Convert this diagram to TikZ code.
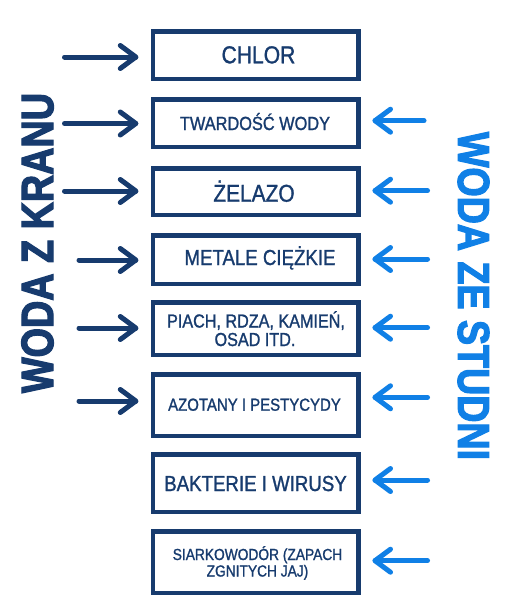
\documentclass[tikz,border=0pt]{standalone}
\usepackage{fontspec}
\usepackage{graphicx}
\usetikzlibrary{calc}
\newfontfamily\boxfont{Liberation Sans}[FakeStretch=0.86,FakeBold=1.2]
\newfontfamily\headfont{Liberation Sans Bold}[FakeBold=3]
\definecolor{navy}{RGB}{23,59,110}
\definecolor{sky}{RGB}{16,128,230}
\tikzset{
  box/.style={draw=navy, line width=4.5pt, minimum width=205.5pt, inner sep=0pt, fill=white},
  lbl/.style={text=navy, inner sep=0pt, anchor=base},
  darr/.style={draw=navy, line width=5pt, line cap=round, line join=round},
  larr/.style={draw=sky, line width=5pt, line cap=round, line join=round},
}
\begin{document}
\begin{tikzpicture}[x=1pt,y=-1pt]
\useasboundingbox[fill=white] (0,0) rectangle (512,613);
% boxes (outer top, outer bottom)
\foreach \n/\t/\b in {1/29/81,2/97/149,3/166/217,4/233/286,5/300/357,6/372/438,7/452/514,8/529/595}{
  \pgfmathsetmacro{\h}{\b-\t-4.5}
  \node[box, minimum height=\h pt] (b\n) at (255.5,{(\t+\b)/2}) {};
}
% texts
\node[lbl, font=\boxfont\fontsize{24.5}{24}\selectfont] (t1) at (258.5,63.3) {CHLOR};
\node[lbl, font=\boxfont\fontsize{19}{19}\selectfont] (t2) at (255,130) {TWARDOŚĆ WODY};
\node[lbl, font=\boxfont\fontsize{24.3}{24}\selectfont] (t3) at (254,201.7) {ŻELAZO};
\node[lbl, font=\boxfont\fontsize{21.7}{22}\selectfont] (t4) at (260,265) {METALE CIĘŻKIE};
\node[lbl, font=\boxfont\fontsize{18.8}{15}\selectfont] (t5a) at (256,327.5) {PIACH, RDZA, KAMIEŃ,};
\node[lbl, font=\boxfont\fontsize{18.8}{15}\selectfont] (t5b) at (255,346) {OSAD ITD.};
\node[lbl, font=\boxfont\fontsize{17.4}{17}\selectfont] (t6) at (254.5,410.7) {AZOTANY I PESTYCYDY};
\node[lbl, font=\boxfont\fontsize{21.7}{22}\selectfont] (t7) at (255.5,491) {BAKTERIE I WIRUSY};
\node[lbl, font=\boxfont\fontsize{16}{13}\selectfont] (t8a) at (257.5,560) {SIARKOWODÓR (ZAPACH};
\node[lbl, font=\boxfont\fontsize{16}{13}\selectfont] (t8b) at (257.5,576.5) {ZGNITYCH JAJ)};
% side titles
\node[rotate=90, inner sep=0pt, text=navy] (lefttitle) at (37.5,243) {\resizebox{300pt}{31.5pt}{\headfont WODA Z KRANU}};
\node[rotate=-90, inner sep=0pt, text=sky] (righttitle) at (473.5,296) {\resizebox{328pt}{31pt}{\headfont WODA ZE STUDNI}};
% left arrows
\foreach \i/\y/\xs in {1/57/64.5,2/123.5/64.5,3/191/64.5,4/260/79,5/328/79,6/401/79}{
  \coordinate (ls\i) at (\xs,\y);
  \coordinate (le\i) at (135.8,\y);
  \draw[darr] (ls\i) -- (le\i);
  \draw[darr] ($(le\i)+(-15.5,-11.5)$) -- (le\i) -- ($(le\i)+(-15.5,11.5)$);
}
% right arrows
\foreach \i/\y/\xs in {2/120.7/424,3/190.7/427.5,4/259/427.5,5/327.7/427.5,6/397.3/427.5,7/480/427.5,8/560.7/427.5}{
  \coordinate (rs\i) at (\xs,\y);
  \coordinate (re\i) at (375,\y);
  \draw[larr] (rs\i) -- (re\i);
  \draw[larr] ($(re\i)+(15.5,-11.5)$) -- (re\i) -- ($(re\i)+(15.5,11.5)$);
}
\end{tikzpicture}
\end{document}
